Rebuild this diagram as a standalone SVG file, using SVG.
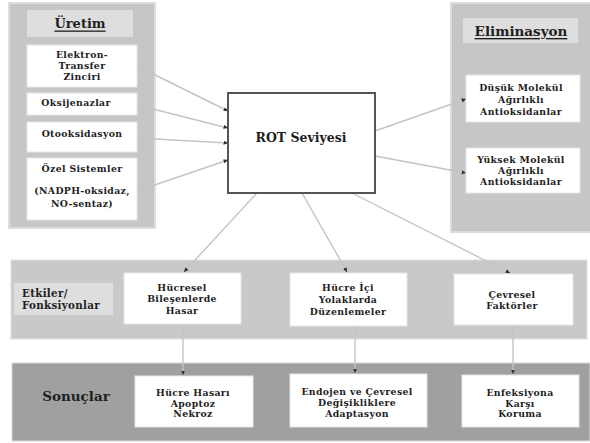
<svg xmlns="http://www.w3.org/2000/svg" width="590" height="443" viewBox="0 0 590 443">
<defs>
<style>
.panel{fill:#c6c6c6;stroke:#dcdcdc;stroke-width:2}
.band{fill:#c9c9c9;stroke:#e0e0e0;stroke-width:1}
.band2{fill:#a0a0a0;stroke:#d8d8d8;stroke-width:1}
.title{fill:#dedede}
.box{fill:#ffffff;stroke:#e6e6e6;stroke-width:1}
.rot{fill:#ffffff;stroke:#555555;stroke-width:2}
text{font-family:"DejaVu Serif","Liberation Serif",serif;font-weight:bold;fill:#1e1e1e;text-anchor:middle;dominant-baseline:central}
.s{font-size:9.3px;letter-spacing:0.35px}
.t{font-size:13px;text-decoration:underline}
.t2{font-size:13.5px;text-decoration:underline}
.l{font-size:10.3px;letter-spacing:0.3px}
.big{font-size:12.5px}
.son{font-size:13.5px}
.con{stroke:#c4c4c4;stroke-width:1.4;fill:none;marker-end:url(#ah)}
</style>
<marker id="ah" viewBox="0 0 10 10" refX="9" refY="5" markerWidth="5" markerHeight="5" orient="auto" markerUnits="userSpaceOnUse">
<path d="M0,1 L10,5 L0,9 z" fill="#333333"/>
</marker>
</defs>
<rect width="590" height="443" fill="#ffffff"/>

<g id="panel-uretim">
<rect class="panel" x="9" y="3" width="146" height="225"/>
<rect class="title" x="27" y="10" width="106" height="27"/>
<text class="t" x="80" y="23">Üretim</text>
</g>
<g id="panel-eliminasyon">
<rect class="panel" x="451" y="3" width="140" height="229"/>
<rect class="title" x="463" y="18" width="115" height="25"/>
<text class="t2" x="521" y="31">Eliminasyon</text>
</g>
<g id="band-etkiler">
<rect class="band" x="11" y="260" width="576" height="79"/>
<rect class="title" x="14" y="283" width="99" height="32"/>
<text class="l" x="22" y="293" style="text-anchor:start">Etkiler/</text>
<text class="l" x="22" y="305" style="text-anchor:start">Fonksiyonlar</text>
</g>
<g id="band-sonuclar">
<rect class="band2" x="12" y="363" width="578" height="78"/>
<text class="son" x="76" y="396">Sonuçlar</text>
</g>

<g id="connectors">
<line class="con" x1="137" y1="66" x2="228" y2="111"/>
<line class="con" x1="137" y1="105" x2="228" y2="128"/>
<line class="con" x1="137" y1="138" x2="228" y2="143"/>
<line class="con" x1="137" y1="191" x2="228" y2="160"/>
<line class="con" x1="375" y1="131" x2="466" y2="99"/>
<line class="con" x1="375" y1="156" x2="466" y2="173"/>
<line class="con" x1="257" y1="193" x2="184" y2="272"/>
<line class="con" x1="302" y1="193" x2="347" y2="272"/>
<line class="con" x1="352" y1="193" x2="510" y2="273"/>
<line class="con" x1="183" y1="324" x2="183" y2="375"/>
<line class="con" x1="355" y1="326" x2="355" y2="373"/>
<line class="con" x1="513" y1="325" x2="513" y2="374"/>
</g>

<g id="n-elektron">
<rect class="box" x="27" y="45" width="110" height="42"/>
<text class="s" x="82" y="54">Elektron-</text>
<text class="s" x="82" y="65">Transfer</text>
<text class="s" x="82" y="76">Zinciri</text>
</g>
<g id="n-oksijenazlar">
<rect class="box" x="27" y="93" width="110" height="22"/>
<text class="s" x="76" y="102">Oksijenazlar</text>
</g>
<g id="n-otooksidasyon">
<rect class="box" x="27" y="122" width="110" height="30"/>
<text class="s" x="82" y="133">Otooksidasyon</text>
</g>
<g id="n-ozel">
<rect class="box" x="27" y="158" width="110" height="62"/>
<text class="s" x="82" y="168">Özel Sistemler</text>
<text class="s" x="82" y="190">(NADPH-oksidaz,</text>
<text class="s" x="82" y="203">NO-sentaz)</text>
</g>

<g id="n-rot">
<rect class="rot" x="228" y="93" width="147" height="100"/>
<text class="big" x="301" y="137">ROT Seviyesi</text>
</g>

<g id="n-dusuk">
<rect class="box" x="466" y="75" width="114" height="47"/>
<text class="s" x="521" y="87">Düşük Molekül</text>
<text class="s" x="521" y="99">Ağırlıklı</text>
<text class="s" x="521" y="111">Antioksidanlar</text>
</g>
<g id="n-yuksek">
<rect class="box" x="466" y="148" width="114" height="45"/>
<text class="s" x="521" y="159">Yüksek Molekül</text>
<text class="s" x="521" y="170">Ağırlıklı</text>
<text class="s" x="521" y="181">Antioksidanlar</text>
</g>

<g id="n-hucresel">
<rect class="box" x="124" y="273" width="117" height="51"/>
<text class="s" x="182" y="287">Hücresel</text>
<text class="s" x="182" y="298">Bileşenlerde</text>
<text class="s" x="182" y="310">Hasar</text>
</g>
<g id="n-hucreici">
<rect class="box" x="290" y="273" width="117" height="53"/>
<text class="s" x="348" y="287">Hücre İçi</text>
<text class="s" x="348" y="299">Yolaklarda</text>
<text class="s" x="348" y="311">Düzenlemeler</text>
</g>
<g id="n-cevresel">
<rect class="box" x="454" y="274" width="119" height="51"/>
<text class="s" x="512" y="294">Çevresel</text>
<text class="s" x="512" y="305">Faktörler</text>
</g>

<g id="n-hasar">
<rect class="box" x="135" y="376" width="118" height="51"/>
<text class="s" x="193" y="392">Hücre Hasarı</text>
<text class="s" x="193" y="403">Apoptoz</text>
<text class="s" x="193" y="413">Nekroz</text>
</g>
<g id="n-endojen">
<rect class="box" x="290" y="374" width="137" height="53"/>
<text class="s" x="357" y="391">Endojen ve Çevresel</text>
<text class="s" x="357" y="402">Değişikliklere</text>
<text class="s" x="357" y="413">Adaptasyon</text>
</g>
<g id="n-enfeksiyon">
<rect class="box" x="462" y="375" width="117" height="52"/>
<text class="s" x="520" y="392">Enfeksiyona</text>
<text class="s" x="520" y="403">Karşı</text>
<text class="s" x="520" y="413">Koruma</text>
</g>
</svg>
